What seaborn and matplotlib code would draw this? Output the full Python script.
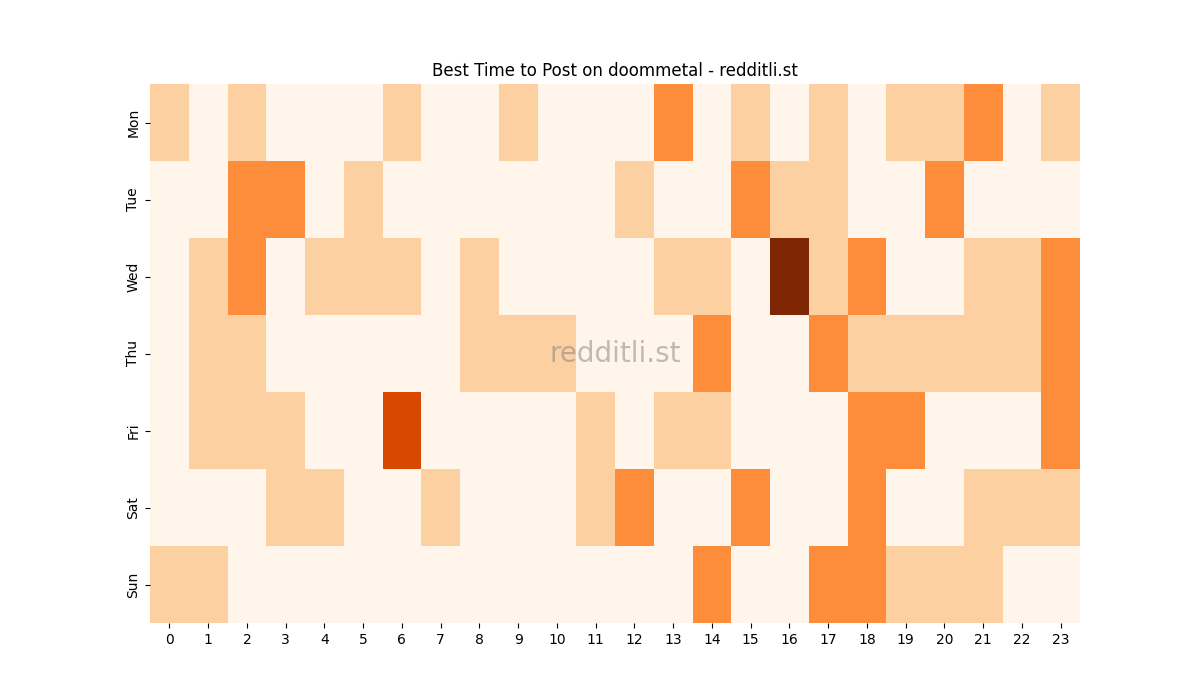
import matplotlib
matplotlib.use("Agg")
import matplotlib.pyplot as plt
import seaborn as sns
import pandas as pd

days = ["Mon", "Tue", "Wed", "Thu", "Fri", "Sat", "Sun"]
hours = list(range(24))

mon = [1,0,1,0,0,0,1,0,0,1,0,0,0,2,0,1,0,1,0,1,1,2,0,1]
tue = [0,0,2,2,0,1,0,0,0,0,0,0,1,0,0,2,1,1,0,0,2,0,0,0]
wed = [0,1,2,0,1,1,1,0,1,0,0,0,0,1,1,0,4,1,2,0,0,1,1,2]
thu = [0,1,1,0,0,0,0,0,1,1,1,0,0,0,2,0,0,2,1,1,1,1,1,2]
fri = [0,1,1,1,0,0,3,0,0,0,0,1,0,1,1,0,0,0,2,2,0,0,0,2]
sat = [0,0,0,1,1,0,0,1,0,0,0,1,2,0,0,2,0,0,2,0,0,1,1,1]
sun = [1,1,0,0,0,0,0,0,0,0,0,0,0,0,2,0,0,2,2,1,1,1,0,0]

df = pd.DataFrame([mon, tue, wed, thu, fri, sat, sun], index=days, columns=hours)

fig, ax = plt.subplots(figsize=(12, 7), dpi=100)
sns.heatmap(df, cmap="Oranges", vmin=0, vmax=4, cbar=False, ax=ax)
ax.set_title("Best Time to Post on doommetal - redditli.st", fontsize=12)
ax.set_xlabel("")
ax.set_ylabel("")
ax.text(0.5, 0.5, "redditli.st", transform=ax.transAxes, ha="center", va="center",
        fontsize=20, color="gray", alpha=0.5)
fig.savefig("out.png", dpi=100)
